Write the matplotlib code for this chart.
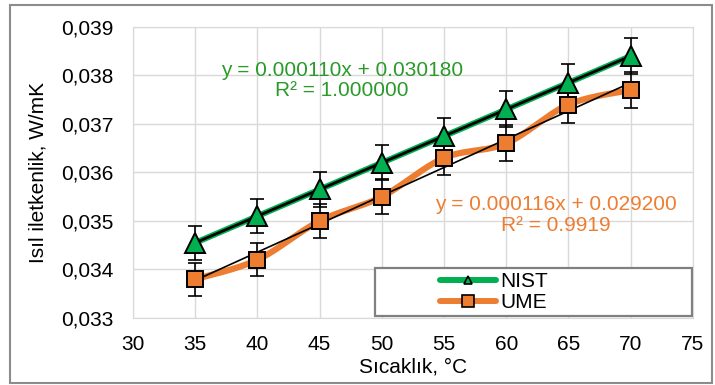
import numpy as np
import matplotlib
matplotlib.use("Agg")
import matplotlib.pyplot as plt
from matplotlib.patches import Rectangle
from matplotlib.ticker import FuncFormatter
from matplotlib.lines import Line2D

plt.rcParams['font.family'] = ['Liberation Sans', 'DejaVu Sans']

# data
temps = [35, 40, 45, 50, 55, 60, 65, 70]
nist = [0.03455, 0.0351, 0.03565, 0.0362, 0.03675, 0.0373, 0.03785, 0.0384]
ume = [0.0338, 0.0342, 0.0350, 0.0355, 0.0363, 0.0366, 0.0374, 0.0377]
nist_err = [0.00035, 0.00035, 0.00036, 0.00036, 0.00037, 0.00037, 0.00038, 0.00038]
ume_err = [0.00034, 0.00034, 0.00035, 0.00036, 0.00036, 0.00037, 0.00037, 0.00038]
xticks = [30, 35, 40, 45, 50, 55, 60, 65, 70, 75]
yticks = [0.033, 0.034, 0.035, 0.036, 0.037, 0.038, 0.039]
nist_eq = "y = 0.000110x + 0.030180\nR² = 1.000000"
ume_eq = "y = 0.000116x + 0.029200\nR² = 0.9919"

GREEN = '#00B050'
ORANGE = '#ED7D31'
FS = 15


def smooth(xs, ys, n=20):
    # excel-like bezier smoothing
    p = np.column_stack([xs, ys]).astype(float)
    pts = np.vstack([p[0], p, p[-1]])
    out = []
    t = np.linspace(0, 1, n)[:, None]
    for i in range(1, len(pts) - 2):
        p0, p3 = pts[i], pts[i + 1]
        c1 = p0 + (pts[i + 1] - pts[i - 1]) / 6
        c2 = p3 - (pts[i + 2] - pts[i]) / 6
        seg = ((1 - t) ** 3) * p0 + 3 * ((1 - t) ** 2) * t * c1 + 3 * (1 - t) * t ** 2 * c2 + t ** 3 * p3
        out.append(seg)
    out = np.vstack(out)
    return out[:, 0], out[:, 1]


fig = plt.figure(figsize=(7.15, 3.85), dpi=100)
ax = fig.add_axes([0.186, 0.174, 0.783, 0.756])

fig.patches.append(Rectangle((0.014, 0.006), 0.982, 0.98, transform=fig.transFigure,
                             fill=False, edgecolor='#8c8c8c', linewidth=1.5))

ax.set_xlim(30, 75)
ax.set_ylim(0.033, 0.039)
ax.set_xticks(xticks)
ax.set_yticks(yticks)
ax.yaxis.set_major_formatter(FuncFormatter(lambda v, p: ("%.3f" % v).replace('.', ',')))
ax.grid(True, color='#d9d9d9', linewidth=1)
ax.set_axisbelow(True)
for s in ax.spines.values():
    s.set_color('#d9d9d9')
ax.tick_params(length=0, labelsize=FS)
ax.tick_params(axis='y', pad=14)
ax.tick_params(axis='x', pad=12)

# NIST
ax.plot(temps, nist, color=GREEN, linewidth=4.3, solid_capstyle='round', zorder=2)
fit = np.polyfit(temps, nist, 1)
ax.plot([temps[0], temps[-1]], np.polyval(fit, [temps[0], temps[-1]]), color='black', linewidth=2, zorder=3)
ax.errorbar(temps, nist, yerr=nist_err, fmt='none', ecolor='black', elinewidth=1.2, capsize=5, capthick=1.2, zorder=4)
ax.plot(temps, nist, linestyle='none', marker='^', markersize=14, markerfacecolor=GREEN,
        markeredgecolor='black', markeredgewidth=1.4, zorder=5)

# UME
sx, sy = smooth(temps, ume)
ax.plot(sx, sy, color=ORANGE, linewidth=4.5, solid_capstyle='round', zorder=2)
fit2 = np.polyfit(temps, ume, 1)
ax.plot([temps[0], temps[-1]], np.polyval(fit2, [temps[0], temps[-1]]), color='black', linewidth=1.2, zorder=3)
ax.errorbar(temps, ume, yerr=ume_err, fmt='none', ecolor='black', elinewidth=1.2, capsize=5, capthick=1.2, zorder=4)
ax.plot(temps, ume, linestyle='none', marker='s', markersize=12, markerfacecolor=ORANGE,
        markeredgecolor='black', markeredgewidth=1.4, zorder=5)

ax.text(46.8, 0.0379, nist_eq, color='#2A9A2A', fontsize=FS, ha='center', va='center',
        linespacing=1.1, zorder=6)
ax.text(64.0, 0.03512, ume_eq, color=ORANGE, fontsize=FS, ha='center', va='center',
        linespacing=1.1, zorder=6)

ax.set_xlabel("Sıcaklık, °C", fontsize=FS, labelpad=3)
ax.set_ylabel("Isıl iletkenlik, W/mK", fontsize=FS, labelpad=10)

# legend box
ax.add_patch(Rectangle((0.432, 0.007), 0.566, 0.165, transform=ax.transAxes, facecolor='white',
                       edgecolor='#808080', linewidth=1.6, zorder=7))
handles = [Line2D([], [], color=GREEN, linewidth=4.3, solid_capstyle='round', marker='^', markersize=6,
                  markerfacecolor=GREEN, markeredgecolor='black', markeredgewidth=1.2),
           Line2D([], [], color=ORANGE, linewidth=4.3, solid_capstyle='round', marker='s', markersize=9,
                  markerfacecolor=ORANGE, markeredgecolor='black', markeredgewidth=1.2)]
leg = ax.legend(handles, ['NIST', 'UME'], loc='center left', bbox_to_anchor=(0.548, 0.089),
                frameon=False, fontsize=FS, handlelength=2.7, handletextpad=0.2, labelspacing=0.1,
                borderpad=0, borderaxespad=0)
leg.set_zorder(8)

fig.savefig("out.png", dpi=100)
